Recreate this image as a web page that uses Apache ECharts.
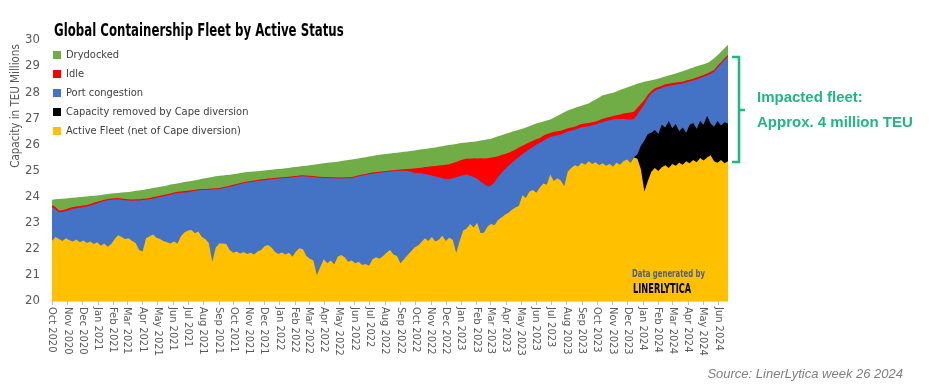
<!DOCTYPE html>
<html><head><meta charset="utf-8">
<script src="https://cdn.jsdelivr.net/npm/echarts@6/dist/echarts.min.js"></script>
<style>html,body{margin:0;padding:0;background:#fff}#c{width:947px;height:392px}</style>
</head><body><div id="c"></div>
<script>
// ---- categories: weekly observations starting 1 Oct 2020 ----
const startDate = [2020, 9, 1];
const monthNames = ['Jan','Feb','Mar','Apr','May','Jun','Jul','Aug','Sep','Oct','Nov','Dec'];
const yTickValues = [20,21,22,23,24,25,26,27,28,29,30];

const seriesNames = ['Drydocked','Idle','Port congestion','Capacity removed by Cape diversion','Active Fleet (net of Cape diversion)'];

// Cumulative levels (TEU millions), one per week
// top of Drydocked band = total fleet
const drydockedTop = [
23.88,23.9,23.91,23.92,23.93,23.95,23.96,23.97,23.98,23.99,
24.0,24.02,24.03,24.04,24.06,24.08,24.1,24.12,24.13,24.14,
24.16,24.17,24.18,24.2,24.22,24.23,24.25,24.28,24.3,24.33,
24.35,24.38,24.4,24.43,24.46,24.48,24.5,24.53,24.56,24.58,
24.6,24.63,24.65,24.68,24.7,24.73,24.75,24.78,24.8,24.81,
24.83,24.84,24.86,24.88,24.9,24.92,24.94,24.95,24.96,24.97,
24.99,25.0,25.02,25.03,25.05,25.06,25.07,25.09,25.1,25.12,
25.13,25.15,25.17,25.18,25.2,25.22,25.24,25.26,25.28,25.3,
25.31,25.33,25.34,25.36,25.38,25.4,25.42,25.44,25.46,25.49,
25.51,25.54,25.56,25.58,25.6,25.62,25.63,25.65,25.67,25.68,
25.7,25.72,25.73,25.75,25.77,25.79,25.81,25.82,25.84,25.86,
25.88,25.91,25.93,25.96,25.98,26.0,26.02,26.04,26.06,26.07,
26.09,26.1,26.12,26.15,26.17,26.2,26.22,26.26,26.31,26.35,
26.4,26.44,26.48,26.52,26.56,26.6,26.65,26.7,26.75,26.8,
26.84,26.88,26.92,26.95,27.02,27.09,27.16,27.23,27.3,27.35,
27.39,27.44,27.48,27.53,27.57,27.65,27.72,27.8,27.88,27.91,
27.95,27.98,28.03,28.08,28.13,28.18,28.23,28.28,28.32,28.36,
28.4,28.43,28.46,28.49,28.52,28.56,28.6,28.64,28.68,28.72,
28.76,28.8,28.85,28.9,28.95,28.99,29.03,29.07,29.12,29.2,
29.3,29.42,29.55,29.68,29.82];

// top of Idle band
const idleTop = [
23.68,23.6,23.47,23.48,23.52,23.56,23.6,23.62,23.64,23.66,
23.68,23.72,23.76,23.8,23.84,23.88,23.91,23.93,23.94,23.95,
23.93,23.91,23.9,23.89,23.9,23.9,23.92,23.93,23.95,23.98,
24.0,24.03,24.06,24.09,24.12,24.16,24.19,24.2,24.21,24.22,
24.24,24.26,24.28,24.29,24.29,24.3,24.31,24.32,24.33,24.36,
24.39,24.42,24.45,24.48,24.52,24.55,24.58,24.6,24.62,24.64,
24.66,24.67,24.69,24.7,24.72,24.73,24.74,24.75,24.76,24.78,
24.79,24.81,24.82,24.81,24.8,24.79,24.77,24.76,24.75,24.75,
24.74,24.74,24.73,24.73,24.74,24.74,24.75,24.78,24.82,24.85,
24.87,24.9,24.92,24.94,24.95,24.97,24.98,25.0,25.01,25.03,
25.04,25.05,25.06,25.07,25.08,25.1,25.11,25.13,25.14,25.16,
25.17,25.19,25.2,25.22,25.24,25.29,25.33,25.38,25.42,25.46,
25.45,25.47,25.46,25.47,25.46,25.47,25.5,25.52,25.55,25.59,
25.63,25.68,25.74,25.8,25.88,25.95,26.02,26.08,26.14,26.2,
26.25,26.33,26.4,26.44,26.48,26.5,26.52,26.57,26.62,26.65,
26.68,26.73,26.78,26.8,26.82,26.85,26.88,26.93,26.98,27.02,
27.05,27.09,27.12,27.15,27.18,27.2,27.22,27.25,27.4,27.55,
27.7,27.9,28.05,28.15,28.2,28.25,28.3,28.32,28.35,28.37,
28.39,28.4,28.45,28.48,28.52,28.56,28.61,28.66,28.72,28.78,
28.85,29.02,29.15,29.3,29.43];

// top of Port congestion band
const congestionTop = [
23.6,23.52,23.4,23.41,23.45,23.49,23.53,23.55,23.57,23.6,
23.62,23.66,23.7,23.75,23.79,23.83,23.86,23.88,23.89,23.9,
23.88,23.86,23.85,23.84,23.85,23.85,23.87,23.88,23.9,23.93,
23.95,23.98,24.01,24.04,24.07,24.11,24.14,24.15,24.16,24.17,
24.2,24.22,24.24,24.25,24.25,24.26,24.27,24.28,24.29,24.32,
24.35,24.38,24.41,24.44,24.48,24.51,24.54,24.56,24.58,24.6,
24.62,24.63,24.65,24.66,24.68,24.69,24.7,24.71,24.72,24.74,
24.75,24.77,24.78,24.77,24.76,24.75,24.73,24.72,24.71,24.71,
24.7,24.7,24.69,24.69,24.7,24.7,24.71,24.74,24.78,24.81,
24.83,24.86,24.88,24.9,24.91,24.93,24.94,24.96,24.97,24.99,
24.99,24.99,24.98,24.95,24.91,24.9,24.89,24.87,24.84,24.81,
24.77,24.74,24.7,24.67,24.66,24.7,24.74,24.78,24.82,24.85,
24.8,24.75,24.68,24.58,24.48,24.4,24.42,24.55,24.75,24.9,
25.05,25.18,25.3,25.42,25.52,25.62,25.72,25.82,25.9,26.0,
26.06,26.14,26.22,26.28,26.32,26.35,26.38,26.44,26.49,26.53,
26.56,26.61,26.66,26.68,26.7,26.73,26.76,26.81,26.86,26.9,
26.93,26.96,26.97,26.97,26.98,26.96,26.95,26.97,27.15,27.35,
27.54,27.78,27.95,28.06,28.11,28.16,28.22,28.24,28.27,28.29,
28.31,28.33,28.38,28.41,28.45,28.49,28.54,28.59,28.65,28.71,
28.78,28.95,29.08,29.23,29.37];

// top of Cape-diversion band (from week 166, mid Dec 2023)
const capeStartWeek = 166;
const capeTop = [
25.3,25.5,25.62,25.95,26.15,26.4,26.45,26.55,26.4,26.75,
26.65,26.9,26.62,26.78,26.5,26.65,26.45,26.75,26.82,26.6,
26.9,26.75,27.1,26.8,26.68,26.9,26.72,26.85,26.8];

// Active fleet (net of Cape diversion)
const activeFleet = [
22.3,22.45,22.38,22.3,22.4,22.33,22.28,22.36,22.25,22.32,
22.22,22.28,22.18,22.25,22.12,22.2,22.08,22.18,22.38,22.52,
22.45,22.38,22.4,22.3,22.22,21.95,21.9,22.4,22.48,22.55,
22.42,22.38,22.3,22.25,22.2,22.28,22.2,22.48,22.62,22.7,
22.72,22.6,22.66,22.45,22.38,22.22,21.5,22.05,22.2,22.2,
22.18,21.95,21.85,21.9,21.82,21.88,21.8,21.85,21.78,21.9,
21.95,22.1,22.15,22.05,21.88,21.8,21.86,21.78,21.85,21.7,
21.9,22.02,21.98,21.72,21.62,21.55,21.0,21.3,21.6,21.45,
21.55,21.4,21.7,21.76,21.68,21.5,21.55,21.45,21.5,21.38,
21.42,21.35,21.6,21.68,21.62,21.72,21.85,21.95,21.78,21.72,
21.45,21.6,21.75,21.9,22.05,22.12,22.25,22.4,22.3,22.45,
22.28,22.35,22.5,22.3,22.42,22.35,21.84,22.3,22.7,22.78,
22.95,22.82,23.0,22.6,22.62,22.85,22.95,22.9,23.1,23.2,
23.3,23.38,23.5,23.58,23.65,24.05,23.95,24.2,24.25,24.15,
24.35,24.5,24.45,24.85,24.6,24.7,24.62,24.4,24.95,25.1,
25.2,25.15,25.3,25.22,25.35,25.25,25.32,25.2,25.28,25.18,
25.25,25.15,25.3,25.22,25.35,25.42,25.3,25.5,25.45,25.05,
24.2,24.6,24.95,25.1,24.98,25.12,25.2,25.1,25.25,25.18,
25.3,25.22,25.35,25.28,25.4,25.32,25.48,25.38,25.5,25.58,
25.35,25.3,25.4,25.28,25.35];

const colors = ['#70ad47','#ff0000','#4472c4','#000000','#ffc000'];
const NARROW = '"Liberation Sans Narrow","DejaVu Sans Condensed","Liberation Sans",sans-serif';
const ARIAL = '"Liberation Sans",Arial,sans-serif';

const weekDates = activeFleet.map((_, i) => new Date(startDate[0], startDate[1], startDate[2] + 7 * i).getTime());
const pairs = (arr, offset) => arr.map((v, i) => [weekDates[i + offset], v]);

const levelSets = [
  pairs(drydockedTop, 0),
  pairs(idleTop, 0),
  pairs(congestionTop, 0),
  pairs(capeTop, capeStartWeek),
  pairs(activeFleet, 0)
];

const chart = echarts.init(document.getElementById('c'), null, {renderer: 'canvas'});
const teal = '#22b585';
const txt = (x, y, text, st, extra) => Object.assign({
  type: 'text', x, y, z: 100,
  style: Object.assign({text, align: 'left', verticalAlign: 'middle', textAlign: 'left', textVerticalAlign: 'middle'}, st)
}, extra || {});

chart.setOption({
  animation: false,
  backgroundColor: '#ffffff',
  legend: {
    data: seriesNames,
    orient: 'vertical',
    left: 53, top: 49.5, padding: 0,
    itemWidth: 8, itemHeight: 8, itemGap: 8,
    icon: 'rect',
    textStyle: {fontFamily: NARROW, fontSize: 11, color: '#404040'}
  },
  grid: {left: 52, right: 219, top: 40, bottom: 91, containLabel: false, outerBoundsMode: 'none'},
  xAxis: {
    type: 'time',
    min: weekDates[0],
    max: weekDates[weekDates.length - 1],
    splitNumber: 45,
    minInterval: 28 * 864e5,
    maxInterval: 31 * 864e5,
    axisLine: {show: true, lineStyle: {color: '#d9d9d9'}},
    axisTick: {show: true, length: 4, lineStyle: {color: '#bfbfbf'}},
    splitLine: {show: false},
    axisLabel: {
      rotate: -90, margin: 6, fontSize: 11, color: '#595959', fontFamily: NARROW,
      hideOverlap: false, showMinLabel: true, showMaxLabel: false,
      formatter: (v) => { const d = new Date(v); return monthNames[d.getMonth()] + ' ' + d.getFullYear(); }
    }
  },
  yAxis: {
    type: 'value', min: yTickValues[0], max: yTickValues[yTickValues.length - 1], interval: 1,
    axisLine: {show: false}, axisTick: {show: false}, splitLine: {show: false},
    axisLabel: {margin: 12, fontSize: 13, color: '#595959', fontFamily: NARROW}
  },
  series: seriesNames.map((name, k) => ({
    name, type: 'line', data: levelSets[k],
    showSymbol: false, symbol: 'none',
    lineStyle: {width: 0},
    itemStyle: {color: colors[k]},
    areaStyle: {color: colors[k], opacity: 1, origin: 'start'},
    emphasis: {disabled: true}
  })),
  graphic: [
    txt(54, 32, 'Global Containership Fleet by Active Status',
        {fontFamily: NARROW, fontWeight: 'bold', fontSize: 17, fill: '#000'}, {scaleX: 0.77}),
    txt(16, 106, 'Capacity in TEU Millions',
        {fontFamily: NARROW, fontSize: 11.5, fill: '#595959', align: 'center', textAlign: 'center'},
        {rotation: Math.PI / 2}),
    txt(632, 274, 'Data generated by',
        {fontFamily: NARROW, fontWeight: 'bold', fontSize: 10, fill: '#4f6080'}, {scaleX: 0.77}),
    txt(633, 289, 'LINERLYTICA',
        {fontFamily: NARROW, fontWeight: 'bold', fontSize: 13.5, fill: '#000'}, {scaleX: 0.68}),
    {type: 'polyline', z: 100, shape: {points: [[732, 57], [739, 57], [739, 162], [732, 162]]},
     style: {stroke: teal, lineWidth: 2.5, fill: null}},
    {type: 'line', z: 100, shape: {x1: 739, y1: 110, x2: 745, y2: 110}, style: {stroke: teal, lineWidth: 2.5}},
    txt(757, 98, 'Impacted fleet:', {fontFamily: ARIAL, fontWeight: 'bold', fontSize: 15, fill: teal}),
    txt(757, 123, 'Approx. 4 million TEU', {fontFamily: ARIAL, fontWeight: 'bold', fontSize: 15, fill: teal}),
    txt(903, 374, 'Source: LinerLytica week 26 2024',
        {fontFamily: ARIAL, fontStyle: 'italic', fontSize: 13, fill: '#7f7f7f', align: 'right', textAlign: 'right'})
  ]
});
</script>
</body></html>
